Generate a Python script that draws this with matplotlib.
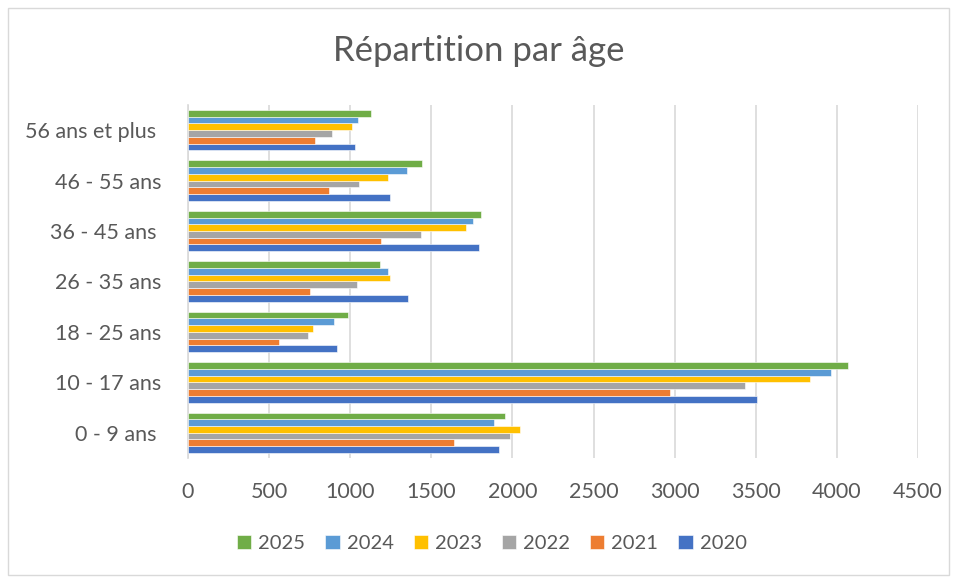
import numpy as np
import matplotlib
matplotlib.use("Agg")
import matplotlib.pyplot as plt
from matplotlib.patches import Rectangle

plt.rcParams['font.family'] = ['Lato', 'DejaVu Sans']

# age groups, bottom to top
categories = ["0 - 9 ans ", "10 - 17 ans", "18 - 25 ans", "26 - 35 ans",
              "36 - 45 ans ", "46 - 55 ans", "56 ans et plus "]

v2020 = [1916, 3509, 918, 1357, 1795, 1245, 1032]
v2021 = [1638, 2974, 563, 751, 1187, 868, 782]
v2022 = [1983, 3433, 738, 1044, 1437, 1055, 889]
v2023 = [2044, 3834, 769, 1247, 1712, 1234, 1011]
v2024 = [1884, 3962, 902, 1231, 1760, 1352, 1051]
v2025 = [1957, 4068, 985, 1183, 1805, 1441, 1127]

years = ["2020", "2021", "2022", "2023", "2024", "2025"]
series = [v2020, v2021, v2022, v2023, v2024, v2025]
colors = ["#4472C4", "#ED7D31", "#A5A5A5", "#FFC000", "#5B9BD5", "#70AD47"]

txt = "#595959"

fig = plt.figure(figsize=(9.57, 5.79), dpi=100)
fig.patches.append(Rectangle((0.008, 0.007), 0.984, 0.98, transform=fig.transFigure,
                             fill=False, edgecolor="#D9D9D9", linewidth=1))

ax = fig.add_axes([0.1964, 0.209, 0.7628, 0.6097])

y = np.arange(len(categories))
group = 0.8
h = group / len(series)
bars = []
for i, (yr, vals, c) in enumerate(zip(years, series, colors)):
    off = -group / 2 + h * (i + 0.5)
    b = ax.barh(y + off, vals, height=h, color=c, edgecolor="white", linewidth=0.4,
                label=yr, zorder=3)
    bars.append(b)

ax.set_xlim(0, 4500)
ax.set_ylim(-0.5, len(categories) - 0.5)
ax.set_xticks(np.arange(0, 4501, 500))
ax.set_yticks(y)
ax.set_yticklabels(categories)
ax.grid(axis="x", color="#D9D9D9", linewidth=1.2, zorder=0)
ax.tick_params(axis="both", length=0, labelsize=15.5, colors=txt)
ax.tick_params(axis="x", pad=17)
ax.tick_params(axis="y", pad=19)
for s in ["top", "right", "bottom"]:
    ax.spines[s].set_visible(False)
ax.spines["left"].set_color("#D9D9D9")
ax.spines["left"].set_linewidth(1.2)

fig.text(0.5, 0.912, "Répartition par âge", fontsize=25, color=txt,
         ha="center", va="center")

handles = bars[::-1]
leg = fig.legend(handles, years[::-1], loc="center", bbox_to_anchor=(0.514, 0.062),
                 ncol=6, frameon=False, fontsize=14.5, handlelength=0.7,
                 handleheight=0.7, handletextpad=0.35, columnspacing=1.0)
for t in leg.get_texts():
    t.set_color(txt)

fig.savefig("out.png", dpi=100)
